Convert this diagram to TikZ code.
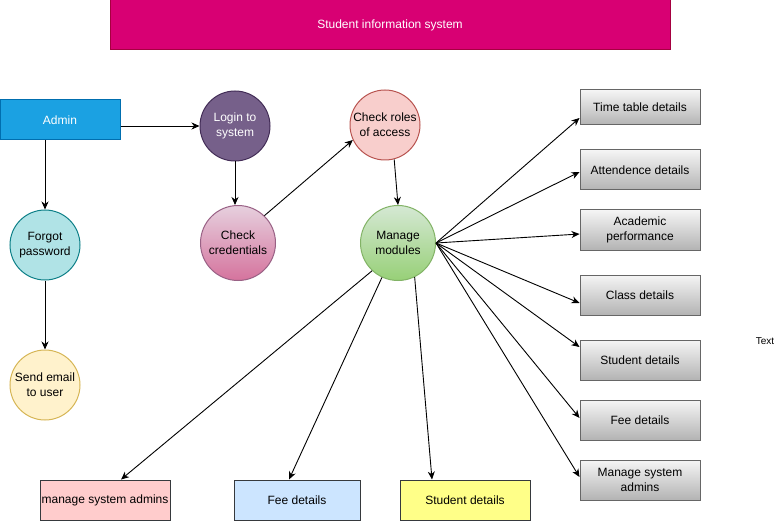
\documentclass[tikz,border=0pt]{standalone}
\usepackage{fontspec}
\setmainfont{Liberation Sans}
\usetikzlibrary{arrows.meta}
\definecolor{titlefill}{HTML}{D80073}
\definecolor{titledraw}{HTML}{A50040}
\definecolor{adminfill}{HTML}{1BA1E2}
\definecolor{admindraw}{HTML}{006EAF}
\definecolor{loginfill}{HTML}{76608A}
\definecolor{logindraw}{HTML}{432D57}
\definecolor{cctop}{HTML}{E6D0DE}
\definecolor{ccbot}{HTML}{D5739D}
\definecolor{ccdraw}{HTML}{996185}
\definecolor{fpfill}{HTML}{B0E3E6}
\definecolor{fpdraw}{HTML}{0E8088}
\definecolor{sefill}{HTML}{FFF2CC}
\definecolor{sedraw}{HTML}{D6B656}
\definecolor{crfill}{HTML}{F8CECC}
\definecolor{crdraw}{HTML}{B85450}
\definecolor{mmtop}{HTML}{D5E8D4}
\definecolor{mmbot}{HTML}{97D077}
\definecolor{mmdraw}{HTML}{82B366}
\definecolor{graytop}{HTML}{F5F5F5}
\definecolor{graybot}{HTML}{B3B3B3}
\definecolor{graydraw}{HTML}{666666}
\definecolor{darkdraw}{HTML}{36393D}
\definecolor{pinkfill}{HTML}{FFCCCC}
\definecolor{bluefill}{HTML}{CCE5FF}
\definecolor{yellowfill}{HTML}{FFFF88}
\begin{document}
\begin{tikzpicture}[x=1pt,y=-1pt,
  every node/.style={font=\fontsize{12}{15}\selectfont, align=center, inner sep=0pt},
  circ/.style={circle, minimum size=70pt, line width=1pt},
  bigcirc/.style={circle, minimum size=75pt, line width=1pt},
  graybox/.style={rectangle, minimum width=120pt, minimum height=40pt, draw=graydraw, line width=1pt, top color=graytop, bottom color=graybot},
  botbox/.style={rectangle, minimum height=40pt, draw=darkdraw, line width=1pt},
  arr/.style={line width=0.9pt, -{Stealth[length=8pt,width=7pt,inset=2.5pt]}}
]
\useasboundingbox (0,0) rectangle (775,521);

\node[rectangle, minimum width=560pt, minimum height=50pt, fill=titlefill, draw=titledraw, line width=1pt, text=white] (title) at (390,25) {Student information system};

\node[rectangle, minimum width=120pt, minimum height=40pt, fill=adminfill, draw=admindraw, line width=1pt, text=white] (admin) at (60,120) {Admin};

\node[circ, fill=loginfill, draw=logindraw, text=white] (lg) at (235,126) {Login to\\system};
\node[bigcirc, top color=cctop, bottom color=ccbot, draw=ccdraw] (cc) at (238,243) {Check\\credentials};
\node[circ, fill=fpfill, draw=fpdraw] (fp) at (45,245) {Forgot\\password};
\node[circ, fill=sefill, draw=sedraw] (se) at (45,385) {Send email\\to user};
\node[circ, fill=crfill, draw=crdraw] (cr) at (385,125) {Check roles\\of access};
\node[bigcirc, top color=mmtop, bottom color=mmbot, draw=mmdraw] (mm) at (398,243) {Manage\\modules};

\node[graybox, minimum height=35pt] (tt) at (640,107.5) {Time table details};
\node[graybox] (att) at (640,170) {Attendence details};
\node[graybox] (acad) at (640,230) {Academic\\performance};
\node[graybox] (cls) at (640,295) {Class details};
\node[graybox] (stud) at (640,360) {Student details};
\node[graybox] (fee) at (640,420) {Fee details};
\node[graybox] (msa) at (640,480) {Manage system\\admins};

\node[botbox, minimum width=130pt, fill=pinkfill] (msa2) at (105,500) {manage system admins};
\node[botbox, minimum width=126pt, fill=bluefill] (fee2) at (297,500) {Fee details};
\node[botbox, minimum width=130pt, fill=yellowfill] (stud2) at (465,500) {Student details};

\node[font=\fontsize{10}{12}\selectfont] (txt) at (765,341) {Text};

\draw[arr] (admin.east |- lg) -- (lg.west);
\draw[arr] (fp |- admin.south) -- (fp.north);
\draw[arr] (fp.south) -- (se.north);
\draw[arr] (lg.south) -- (lg.south |- cc.north);
\draw[arr] (cc.46) -- (cr.205);
\draw[arr] (cr.-75) -- (mm.north);

\draw[arr] (mm.east) -- ([yshift=-10.5pt]tt.west);
\draw[arr] (mm.east) -- ([yshift=-2pt]att.west);
\draw[arr] (mm.east) -- ([yshift=-4pt]acad.west);
\draw[arr] (mm.east) -- ([yshift=-8pt]cls.west);
\draw[arr] (mm.east) -- ([yshift=13pt]stud.west);
\draw[arr] (mm.east) -- ([yshift=2pt]fee.west);
\draw[arr] (mm.east) -- ([yshift=3pt]msa.west);

\draw[arr] (mm.227) -- ([xshift=16pt]msa2.north);
\draw[arr] (mm.245) -- ([xshift=-8pt]fee2.north);
\draw[arr] (mm.296) -- ([xshift=-33pt]stud2.north);
\end{tikzpicture}
\end{document}
